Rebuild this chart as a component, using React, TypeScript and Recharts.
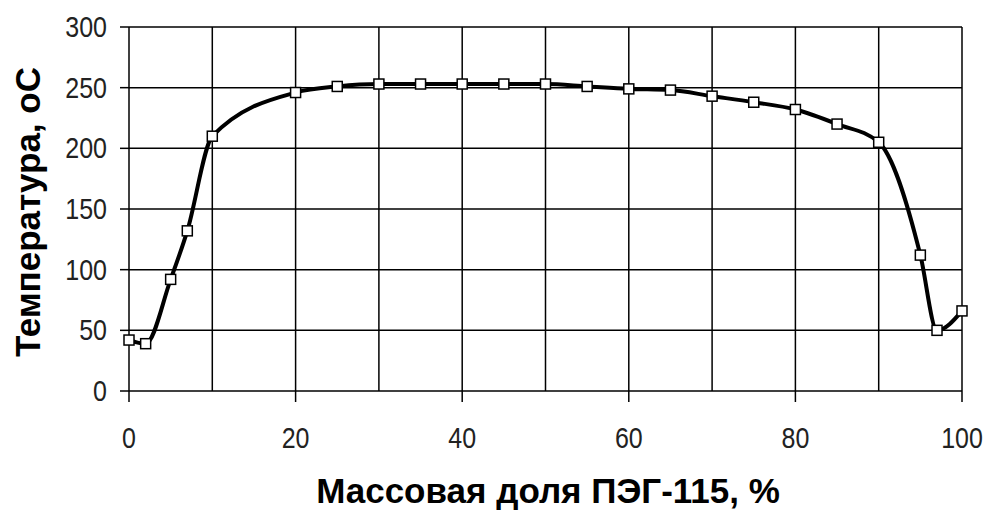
import React from 'react';
import { Line, LineChart, ReferenceLine, XAxis, YAxis } from 'recharts';

// массовая доля ПЭГ-115, %
const massShare = [0, 2, 5, 7, 10, 20, 25, 30, 35, 40, 45, 50, 55, 60, 65, 70, 75, 80, 85, 90, 95, 97, 100];
// температура, °C
const temperature = [42, 39, 92, 132, 210, 246, 251, 253, 253, 253, 253, 253, 251, 249, 248, 243, 238, 232, 220, 205, 112, 50, 66];

const xTicks = [0, 20, 40, 60, 80, 100];
const yTicks = [0, 50, 100, 150, 200, 250, 300];
const xGrid = [10, 20, 30, 40, 50, 60, 70, 80, 90, 100];
const yGrid = [50, 100, 150, 200, 250, 300];

const data = massShare.map((x, i) => ({ x, t: temperature[i] }));

const FONT = '"Liberation Sans", Arial, sans-serif';

const SquareDot = (props: any) => {
  const { cx, cy } = props;
  if (cx == null || cy == null) return null;
  return <rect x={cx - 5} y={cy - 5} width={10} height={10} fill="#fff" stroke="#000" strokeWidth={1.5} />;
};

// tick labels in the original look a bit narrow and tall
const XTick = ({ x, y, payload }: any) => (
  <text
    transform={`translate(${x},${y + 46}) scale(1,1.18)`}
    textAnchor="middle"
    fontSize={25}
    fontFamily={FONT}
    fill="#222"
  >
    {payload.value}
  </text>
);

const YTick = ({ x, y, payload }: any) => (
  <text
    transform={`translate(${x - 13},${y + 10}) scale(1,1.18)`}
    textAnchor="end"
    fontSize={25}
    fontFamily={FONT}
    fill="#222"
  >
    {payload.value}
  </text>
);

export default function App() {
  return (
    <div style={{ position: 'absolute', left: 0, top: 0, background: '#fff' }}>
      <LineChart width={991} height={511} data={data} margin={{ top: 27, right: 29, left: 0, bottom: 0 }}>
        <XAxis
          dataKey="x"
          type="number"
          domain={[0, 100]}
          ticks={xTicks}
          height={120}
          tickSize={11}
          tickMargin={0}
          stroke="#000"
          tickLine={{ stroke: '#000', strokeWidth: 1.5 }}
          axisLine={{ stroke: '#000', strokeWidth: 1.5 }}
          tick={<XTick />}
          label={{
            content: () => (
              <text x={548} y={503} textAnchor="middle" fontSize={35} fontWeight="bold" fontFamily={FONT} fill="#000">
                Массовая доля ПЭГ-115, %
              </text>
            ),
          }}
        />
        <YAxis
          type="number"
          domain={[0, 300]}
          ticks={yTicks}
          width={129}
          tickSize={9}
          tickMargin={0}
          stroke="#000"
          tickLine={{ stroke: '#000', strokeWidth: 1.5 }}
          axisLine={{ stroke: '#000', strokeWidth: 1.5 }}
          tick={<YTick />}
          label={{
            content: () => (
              <text
                transform="translate(40,212) rotate(-90)"
                textAnchor="middle"
                fontSize={35}
                fontWeight="bold"
                fontFamily={FONT}
                fill="#000"
              >
                Температура, оС
              </text>
            ),
          }}
        />
        {xGrid.map((v) => (
          <ReferenceLine key={'x' + v} x={v} stroke="#000" strokeWidth={1.5} />
        ))}
        {yGrid.map((v) => (
          <ReferenceLine key={'y' + v} y={v} stroke="#000" strokeWidth={1.5} />
        ))}
        <Line
          type="monotone"
          dataKey="t"
          stroke="#000"
          strokeWidth={4}
          dot={<SquareDot />}
          activeDot={false}
          isAnimationActive={false}
        />
      </LineChart>
    </div>
  );
}
